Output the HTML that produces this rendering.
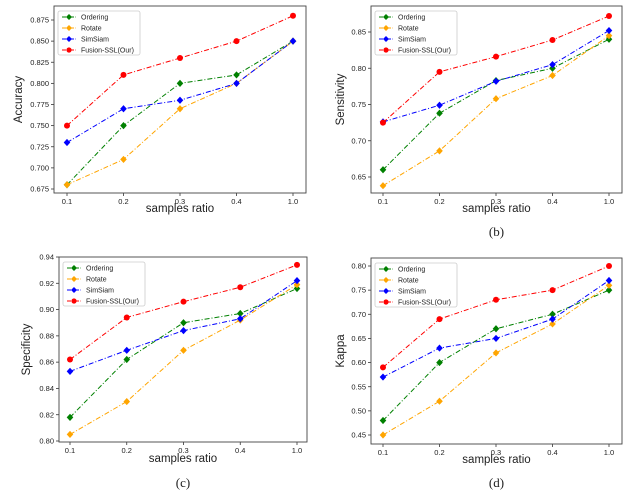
<!DOCTYPE html>
<html><head><meta charset="utf-8"><style>
html,body{margin:0;padding:0;background:#fff;}
svg{display:block;font-family:"Liberation Sans","DejaVu Sans",sans-serif;}
</style></head><body>
<svg id="fig" width="643" height="495" viewBox="0 0 643 495"></svg>
<script>
const categories = ["0.1","0.2","0.3","0.4","1.0"];
const seriesNames = ["Ordering","Rotate","SimSiam","Fusion-SSL(Our)"];
const accOrdering = [0.68,0.75,0.80,0.81,0.85];
const accRotate = [0.68,0.71,0.77,0.80,0.85];
const accSimSiam = [0.73,0.77,0.78,0.80,0.85];
const accFusion = [0.75,0.81,0.83,0.85,0.88];
const senOrdering = [0.66,0.738,0.783,0.80,0.84];
const senRotate = [0.638,0.686,0.758,0.79,0.845];
const senSimSiam = [0.726,0.749,0.782,0.805,0.852];
const senFusion = [0.725,0.795,0.816,0.839,0.872];
const speOrdering = [0.818,0.862,0.890,0.897,0.916];
const speRotate = [0.805,0.830,0.869,0.892,0.919];
const speSimSiam = [0.853,0.869,0.884,0.893,0.922];
const speFusion = [0.862,0.894,0.906,0.917,0.934];
const kapOrdering = [0.48,0.60,0.67,0.70,0.75];
const kapRotate = [0.45,0.52,0.62,0.68,0.76];
const kapSimSiam = [0.57,0.63,0.65,0.69,0.77];
const kapFusion = [0.59,0.69,0.73,0.75,0.80];
const accTicks = ["0.675","0.700","0.725","0.750","0.775","0.800","0.825","0.850","0.875"];
const senTicks = ["0.65","0.70","0.75","0.80","0.85"];
const speTicks = ["0.80","0.82","0.84","0.86","0.88","0.90","0.92","0.94"];
const kapTicks = ["0.45","0.50","0.55","0.60","0.65","0.70","0.75","0.80"];
const colors = ["#008000","#ffa500","#0000ff","#ff0000"];

const NS="http://www.w3.org/2000/svg";
const svg=document.getElementById('fig');
function mk(tag,attrs,parent){const e=document.createElementNS(NS,tag);for(const k in attrs)e.setAttribute(k,attrs[k]);(parent||svg).appendChild(e);return e;}

const panels=[
 {id:"accuracy",ylabel:"Accuracy",sub:"(a)",series:[accOrdering,accRotate,accSimSiam,accFusion],ticks:accTicks,
  box:[54,6,306,193],x0:67,x1:293,ya:[0.675,189],yb:[0.875,20],xl:212,subY:230,ylx:22},
 {id:"sensitivity",ylabel:"Sensitivity",sub:"(b)",series:[senOrdering,senRotate,senSimSiam,senFusion],ticks:senTicks,
  box:[371,6,622,193],x0:383,x1:609,ya:[0.65,177],yb:[0.85,32],xl:212,subY:236,ylx:344},
 {id:"specificity",ylabel:"Specificity",sub:"(c)",series:[speOrdering,speRotate,speSimSiam,speFusion],ticks:speTicks,
  box:[59,257,307,442],x0:70,x1:297,ya:[0.80,441],yb:[0.94,257],xl:462,subY:487,ylx:30},
 {id:"kappa",ylabel:"Kappa",sub:"(d)",series:[kapOrdering,kapRotate,kapSimSiam,kapFusion],ticks:kapTicks,
  box:[371,258,622,444],x0:383,x1:609,ya:[0.45,435],yb:[0.80,266],xl:463,subY:487,ylx:344}
];

panels.forEach(p=>{
  const g=mk('g',{});
  
  
  const [L,T,R,B]=p.box;
  const xs=i=>p.x0+(p.x1-p.x0)*i/(categories.length-1);
  const ys=v=>p.ya[1]+(v-p.ya[0])*(p.yb[1]-p.ya[1])/(p.yb[0]-p.ya[0]);
  // y ticks
  p.ticks.forEach(t=>{
    const y=ys(parseFloat(t));
    mk('line',{x1:L-3,x2:L,y1:y,y2:y,stroke:'#333','stroke-width':0.8},g);
    const tx=mk('text',{x:L-5,y:y+2.6,'font-size':7.5,'text-anchor':'end',fill:'#222'},g);
    tx.textContent=t;
    
    
  });
  categories.forEach((c,i)=>{
    const x=xs(i);
    mk('line',{x1:x,x2:x,y1:B,y2:B+3,stroke:'#333','stroke-width':0.8},g);
    const tx=mk('text',{x:x,y:B+11,'font-size':7.5,'text-anchor':'middle',fill:'#222'},g);
    tx.textContent=c;
    
    
  });
  // series
  p.series.forEach((vals,si)=>{
    const pts=vals.map((v,i)=>xs(i)+','+ys(v)).join(' ');
    const pl=mk('polyline',{points:pts,fill:'none',stroke:colors[si],'stroke-width':1,'stroke-dasharray':'5,2,1,2'},g);
    
    
    vals.forEach((v,i)=>{
      let m;
      if(si===3) m=mk('circle',{cx:xs(i),cy:ys(v),r:3,fill:colors[si]},g);
      else m=mk('path',{d:`M${xs(i)-3.3},${ys(v)} L${xs(i)},${ys(v)-3.6} L${xs(i)+3.3},${ys(v)} L${xs(i)},${ys(v)+3.6}Z`,fill:colors[si]},g);
      
      
    });
  });
  const fr=mk('rect',{x:L,y:T,width:R-L,height:B-T,fill:'none',stroke:'#444','stroke-width':0.9},g);
  
  
  // legend
  const lg=mk('g',{},g);
  
  
  mk('rect',{x:L+4,y:T+5,width:82,height:44,fill:'#fff',stroke:'#ccc','stroke-width':0.8,rx:2},lg);
  seriesNames.forEach((n,si)=>{
    const y=T+11+si*11;
    const e=mk('g',{},lg);
    
    
    mk('line',{x1:L+8,x2:L+22,y1:y,y2:y,stroke:colors[si],'stroke-width':1,'stroke-dasharray':'4,1.5,1,1.5'},e);
    if(si===3) mk('circle',{cx:L+15,cy:y,r:2.6,fill:colors[si]},e);
    else mk('path',{d:`M${L+12},${y} L${L+15},${y-3} L${L+18},${y} L${L+15},${y+3}Z`,fill:colors[si]},e);
    const t=mk('text',{x:L+27,y:y+2.5,'font-size':7,fill:'#222'},e);
    t.textContent=n;
  });
  const xl=mk('text',{x:(L+R)/2,y:p.xl,'font-size':11.5,'text-anchor':'middle',fill:'#222'},g);
  xl.textContent='samples ratio';
  
  
  const yl=mk('text',{x:p.ylx,y:(T+B)/2,'font-size':11.5,'text-anchor':'middle',fill:'#222',transform:`rotate(-90 ${p.ylx} ${(T+B)/2})`},g);
  yl.textContent=p.ylabel;
  
  
  if(p.sub!=="(a)"){
    const st=mk('text',{x:(L+R)/2,y:p.subY,'font-size':13,'text-anchor':'middle',fill:'#222','font-family':'Liberation Serif, serif'},g);
    st.textContent=p.sub;
    
    
  }
});
</script>
</body></html>
